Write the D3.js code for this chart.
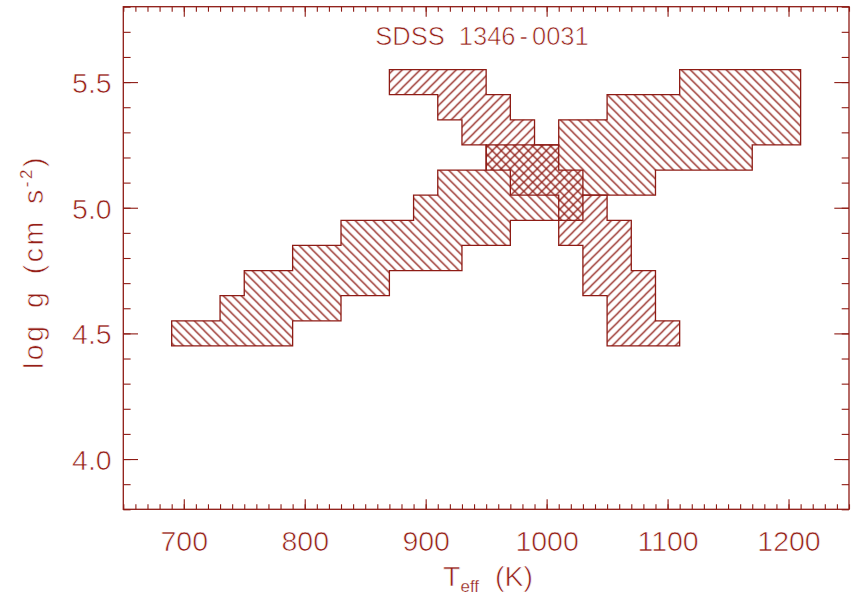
<!DOCTYPE html>
<html>
<head>
<meta charset="utf-8">
<script src="https://cdn.jsdelivr.net/npm/d3@7"></script>
<style>
  body { margin: 0; background: #fff; }
  text { font-family: "Liberation Sans", Arial, sans-serif; fill: #951f18;
         stroke: #fff; stroke-width: 0.65px; }
  tspan.small { stroke-width: 0.25px; }
</style>
</head>
<body>
<svg id="chart"></svg>
<script>
// axis ranges and ticks
var teffRange = [650, 1250];
var loggRange = [3.8, 5.8];
var teffLabels = [700, 800, 900, 1000, 1100, 1200];
var loggLabels = [4.0, 4.5, 5.0, 5.5];

// grid rows of log g, each row is 0.1 dex high
var loggRows = [4.5, 4.6, 4.7, 4.8, 4.9, 5.0, 5.1, 5.2, 5.3, 5.4, 5.5];

// allowed Teff span in each row, first fit (rising band)
var fitA_lo = [690, 730, 750, 790, 830, 890, 910, 950, 1010, 1050, 1110];
var fitA_hi = [790, 830, 870, 930, 970, 1030, 1090, 1170, 1210, 1210, 1210];

// second fit (falling band)
var fitB_lo = [1050, 1050, 1030, 1030, 1010, 1010, 970, 950, 930, 910, 870];
var fitB_hi = [1110, 1090, 1090, 1070, 1070, 1050, 1030, 1010, 990, 970, 950];

var rowHalf = 0.05;

var width = 860, height = 598;
var margin = {left: 123.3, right: 11, top: 6.7, bottom: 88.7};
var w = width - margin.left - margin.right;
var h = height - margin.top - margin.bottom;
var ink = "#8e1b14";

var svg = d3.select("#chart")
            .attr("width", width)
            .attr("height", height);

var x = d3.scaleLinear().domain(teffRange).range([0, w]);
var y = d3.scaleLinear().domain(loggRange).range([h, 0]);

var defs = svg.append("defs");
defs.append("pattern")
    .attr("id", "hatchA")
    .attr("patternUnits", "userSpaceOnUse")
    .attr("width", 9).attr("height", 9)
  .append("path")
    .attr("d", "M-1,-1L10,10M-1,8L1,10M8,-1L10,1")
    .attr("stroke", ink).attr("stroke-width", 1.25);
defs.append("pattern")
    .attr("id", "hatchB")
    .attr("patternUnits", "userSpaceOnUse")
    .attr("width", 9).attr("height", 9)
  .append("path")
    .attr("d", "M-1,10L10,-1M-1,1L1,-1M8,10L10,8")
    .attr("stroke", ink).attr("stroke-width", 1.25);

var g = svg.append("g")
           .attr("transform", "translate(" + margin.left + "," + margin.top + ")");

// outline of a staircase: up the left edges, down the right edges
function outline(lo, hi) {
  var pts = [];
  for (var i = 0; i < loggRows.length; i++) {
    pts.push([lo[i], loggRows[i] - rowHalf]);
    pts.push([lo[i], loggRows[i] + rowHalf]);
  }
  for (var j = loggRows.length - 1; j >= 0; j--) {
    pts.push([hi[j], loggRows[j] + rowHalf]);
    pts.push([hi[j], loggRows[j] - rowHalf]);
  }
  return pts;
}

var line = d3.line()
             .x(function(d){ return x(d[0]); })
             .y(function(d){ return y(d[1]); });

var regions = [
  {pts: outline(fitA_lo, fitA_hi), fill: "url(#hatchA)"},
  {pts: outline(fitB_lo, fitB_hi), fill: "url(#hatchB)"}
];

g.selectAll("path.fill")
  .data(regions)
  .enter()
  .append("path")
    .attr("class", "fill")
    .attr("d", function(d){ return line(d.pts) + "Z"; })
    .attr("fill", function(d){ return d.fill; })
    .attr("stroke", "none");

g.selectAll("path.edge")
  .data(regions)
  .enter()
  .append("path")
    .attr("class", "edge")
    .attr("d", function(d){ return line(d.pts) + "Z"; })
    .attr("fill", "none")
    .attr("stroke", ink)
    .attr("stroke-width", 1.3);

// ticks on all four sides, pointing inwards
var xMinor = d3.range(teffRange[0], teffRange[1] + 1, 10);
var yMinor = d3.range(38, 59).map(function(v){ return v / 10; });

function styleAxis(sel) {
  sel.select(".domain").remove();
  sel.selectAll("line").attr("stroke", ink).attr("stroke-width", 1.1);
}

g.append("g").attr("transform", "translate(0," + h + ")")
  .call(d3.axisBottom(x).tickValues(xMinor).tickSize(-5).tickFormat(""))
  .call(styleAxis);
var xAx = g.append("g").attr("transform", "translate(0," + h + ")")
  .call(d3.axisBottom(x).tickValues(teffLabels).tickSize(-10).tickFormat(d3.format("d")))
  .call(styleAxis);
xAx.selectAll("text")
   .attr("y", 41.4).attr("dy", 0)
   .attr("font-size", 28.5).attr("fill", "#951f18")
   .attr("font-family", "Liberation Sans, Arial, sans-serif");

g.append("g")
  .call(d3.axisTop(x).tickValues(xMinor).tickSize(-5).tickFormat(""))
  .call(styleAxis);
g.append("g")
  .call(d3.axisTop(x).tickValues(teffLabels).tickSize(-10).tickFormat(""))
  .call(styleAxis);

g.append("g")
  .call(d3.axisLeft(y).tickValues(yMinor).tickSize(-7.3).tickFormat(""))
  .call(styleAxis);
var yAx = g.append("g")
  .call(d3.axisLeft(y).tickValues(loggLabels).tickSize(-14.7).tickFormat(d3.format(".1f")))
  .call(styleAxis);
yAx.selectAll("text")
   .attr("x", -11.6).attr("dy", "0.36em")
   .attr("font-size", 28.5).attr("fill", "#951f18")
   .attr("font-family", "Liberation Sans, Arial, sans-serif");

g.append("g").attr("transform", "translate(" + w + ",0)")
  .call(d3.axisRight(y).tickValues(yMinor).tickSize(-7.3).tickFormat(""))
  .call(styleAxis);
g.append("g").attr("transform", "translate(" + w + ",0)")
  .call(d3.axisRight(y).tickValues(loggLabels).tickSize(-14.7).tickFormat(""))
  .call(styleAxis);

// frame
g.append("rect")
  .attr("width", w).attr("height", h)
  .attr("fill", "none")
  .attr("stroke", ink)
  .attr("stroke-width", 1.3);

// title
var title = g.append("text")
  .attr("x", 482 - margin.left)
  .attr("y", 45 - margin.top)
  .attr("text-anchor", "middle")
  .attr("font-size", 25.5)
  .style("word-spacing", "7px");
title.append("tspan").text("SDSS 1346");
title.append("tspan").attr("dx", 4).text("-");
title.append("tspan").attr("dx", 4).text("0031");

// x label
var xl = svg.append("text")
  .attr("x", 488).attr("y", 586)
  .attr("text-anchor", "middle")
  .attr("font-size", 28.5)
  .style("word-spacing", "8px");
xl.append("tspan").text("T");
xl.append("tspan").attr("class", "small").attr("font-size", 17).attr("dy", 6).text("eff");
xl.append("tspan").attr("dy", -6).text(" (K)");

// y label
var yl = svg.append("text")
  .attr("transform", "translate(43.3,262) rotate(-90)")
  .attr("text-anchor", "middle")
  .attr("font-size", 28.5)
  .style("word-spacing", "5px")
  .style("letter-spacing", "2.5px");
yl.append("tspan").text("log g (cm s");
yl.append("tspan").attr("class", "small").attr("font-size", 17).attr("dy", -11).text("-2");
yl.append("tspan").attr("dy", 11).text(")");
</script>
</body>
</html>
